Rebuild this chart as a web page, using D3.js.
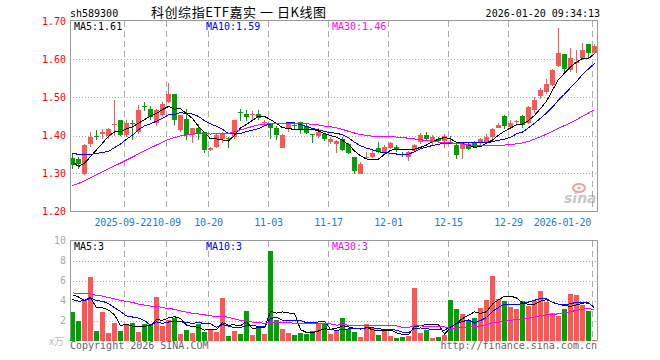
<!DOCTYPE html>
<html>
<head>
<meta charset="utf-8">
<script src="https://cdn.jsdelivr.net/npm/d3@7"></script>
<style>
body { margin: 0; background: #fff; }
text { font-family: "DejaVu Sans Mono", monospace; font-size: 10px; }
</style>
</head>
<body>
<div id="chart"></div>
<script>
// trading days shown on the chart
var dates = [
  "2025-09-09","2025-09-10","2025-09-11","2025-09-12","2025-09-15","2025-09-16","2025-09-17","2025-09-18","2025-09-19",
  "2025-09-22","2025-09-23","2025-09-24","2025-09-25","2025-09-26","2025-09-29","2025-09-30",
  "2025-10-09","2025-10-10","2025-10-13","2025-10-14","2025-10-15","2025-10-16","2025-10-17",
  "2025-10-20","2025-10-21","2025-10-22","2025-10-23","2025-10-24","2025-10-27","2025-10-28","2025-10-29","2025-10-30","2025-10-31",
  "2025-11-03","2025-11-04","2025-11-05","2025-11-06","2025-11-07","2025-11-10","2025-11-11","2025-11-12","2025-11-13","2025-11-14",
  "2025-11-17","2025-11-18","2025-11-19","2025-11-20","2025-11-21","2025-11-24","2025-11-25","2025-11-26","2025-11-27","2025-11-28",
  "2025-12-01","2025-12-02","2025-12-03","2025-12-04","2025-12-05","2025-12-08","2025-12-09","2025-12-10","2025-12-11","2025-12-12",
  "2025-12-15","2025-12-16","2025-12-17","2025-12-18","2025-12-19","2025-12-22","2025-12-23","2025-12-24","2025-12-25","2025-12-26",
  "2025-12-29","2025-12-30","2025-12-31",
  "2026-01-05","2026-01-06","2026-01-07","2026-01-08","2026-01-09","2026-01-12","2026-01-13","2026-01-14","2026-01-15","2026-01-16",
  "2026-01-19","2026-01-20"
];

var open = [1.342,1.339,1.300,1.377,1.400,1.405,1.399,1.427,1.440,1.401,1.432,1.410,1.478,1.471,1.432,1.455,1.489,1.509,
  1.414,1.443,1.401,1.421,1.409,1.361,1.371,1.390,1.393,1.395,1.463,1.456,1.455,1.456,1.434,1.429,1.421,1.368,
  1.419,1.427,1.436,1.426,1.403,1.398,1.403,1.382,1.378,1.391,1.377,1.344,1.300,1.342,1.343,1.368,1.354,1.368,
  1.370,1.351,1.344,1.359,1.383,1.401,1.384,1.392,1.386,1.384,1.376,1.365,1.376,1.382,1.379,1.384,1.396,1.421,
  1.451,1.423,1.437,1.451,1.433,1.466,1.504,1.515,1.532,1.583,1.614,1.572,1.591,1.603,1.640,1.616];
var high = [1.351,1.343,1.378,1.408,1.414,1.416,1.421,1.494,1.442,1.442,1.442,1.480,1.489,1.477,1.471,1.489,1.539,1.510,
  1.455,1.471,1.420,1.430,1.410,1.370,1.405,1.410,1.396,1.441,1.469,1.467,1.465,1.467,1.442,1.431,1.425,1.403,
  1.436,1.430,1.436,1.429,1.405,1.419,1.403,1.397,1.389,1.395,1.379,1.344,1.330,1.356,1.362,1.383,1.374,1.383,
  1.374,1.356,1.360,1.377,1.407,1.409,1.401,1.395,1.403,1.398,1.379,1.381,1.381,1.385,1.393,1.405,1.421,1.433,
  1.454,1.440,1.442,1.454,1.477,1.502,1.524,1.550,1.574,1.684,1.614,1.629,1.625,1.644,1.640,1.640];
var low = [1.313,1.313,1.296,1.370,1.388,1.390,1.390,1.400,1.398,1.396,1.388,1.405,1.464,1.442,1.425,1.449,1.485,1.427,
  1.408,1.388,1.379,1.388,1.354,1.359,1.368,1.379,1.368,1.392,1.437,1.437,1.442,1.442,1.427,1.392,1.388,1.368,
  1.410,1.418,1.403,1.403,1.381,1.394,1.386,1.378,1.354,1.360,1.351,1.300,1.298,1.337,1.340,1.355,1.352,1.364,
  1.357,1.343,1.334,1.357,1.377,1.388,1.374,1.380,1.366,1.378,1.337,1.339,1.362,1.367,1.372,1.381,1.389,1.419,
  1.416,1.416,1.425,1.421,1.429,1.460,1.497,1.509,1.530,1.581,1.565,1.568,1.565,1.598,1.605,1.614];
var close = [1.322,1.324,1.375,1.396,1.395,1.408,1.417,1.430,1.401,1.434,1.430,1.468,1.475,1.449,1.467,1.482,1.509,1.440,
  1.454,1.401,1.420,1.405,1.363,1.367,1.401,1.405,1.390,1.440,1.462,1.450,1.457,1.445,1.436,1.421,1.401,1.401,
  1.432,1.425,1.416,1.407,1.402,1.409,1.391,1.391,1.385,1.361,1.353,1.307,1.326,1.344,1.355,1.357,1.370,1.379,
  1.361,1.350,1.357,1.374,1.401,1.392,1.397,1.386,1.399,1.382,1.348,1.379,1.365,1.370,1.392,1.396,1.418,1.427,
  1.425,1.432,1.439,1.427,1.474,1.493,1.521,1.535,1.572,1.618,1.574,1.605,1.594,1.625,1.616,1.635];
// volume, in 10k
var volume = [2.9,2.0,4.1,6.4,1.0,2.9,0.8,1.8,1.0,1.7,1.8,0.9,1.7,1.6,4.4,1.5,2.1,2.3,
  0.7,1.1,0.8,1.7,0.9,1.1,0.9,4.3,0.5,1.0,0.7,3.0,0.6,1.3,0.7,9.0,2.1,1.2,
  0.75,0.6,0.8,0.65,1.0,1.7,1.65,0.65,1.05,2.3,1.15,0.9,0.4,1.7,1.25,0.6,1.2,0.5,
  0.3,0.4,0.5,5.3,0.8,1.1,0.3,0.4,0.6,4.1,3.2,2.7,2.0,2.3,3.3,4.1,6.5,4.2,
  4.0,3.4,3.2,4.0,3.5,4.0,5.0,3.9,2.8,2.5,3.2,4.7,4.6,3.6,3.0,0.1];

// sessions before the window, only used so the moving averages start where they should
var histClose = [1.15,1.16,1.16,1.17,1.17,1.18,1.18,1.19,1.19,1.20,1.21,1.22,1.23,1.25,1.27,1.28,1.30,1.31,1.33,1.35,
  1.36,1.38,1.39,1.37,1.38,1.39,1.33,1.31,1.305];
var histVolume = [4.5,5.0,6.2,5.5,4.8,5.2,6.0,5.5,4.6,5.0,5.8,4.9,4.4,5.3,5.1,4.7,4.8,5.4,4.9,4.3,
  3.8,3.5,3.9,3.4,3.6,3.1,5.9,4.8,6.15];

var tickDates = ["2025-09-22","2025-10-09","2025-10-20","2025-11-03","2025-11-17","2025-12-01","2025-12-15","2025-12-29","2026-01-20"];
var tickLabels = ["2025-09-22","10-09","10-20","11-03","11-17","12-01","12-15","12-29","2026-01-20"];
var priceTicks = [1.20,1.30,1.40,1.50,1.60,1.70];
var volumeTicks = [2,4,6,8,10];

var maPeriods = [5, 10, 30];
var maColors = ["#000000", "#0000ff", "#ff00ff"];
var priceMaLabels = ["MA5:1.61", "MA10:1.59", "MA30:1.46"];
var volumeMaLabels = ["MA5:3", "MA10:3", "MA30:3"];

var svgWidth = 660;
var svgHeight = 360;
var red = "#ff5555";
var green = "#00a000";

var svg = d3.select("#chart").append("svg")
  .attr("width", svgWidth)
  .attr("height", svgHeight)
  .style("display", "block");

var idx = d3.range(dates.length);

var x = d3.scaleBand()
  .domain(idx)
  .range([69.5, 597.5])
  .paddingInner(1 / 6)
  .paddingOuter(1 / 12);

var yPrice = d3.scaleLinear().domain([1.20, 1.70]).range([211.5, 21.5]);
var yVol = d3.scaleLinear().domain([0, 10]).range([340.5, 240.5]);

function movingAverage(series, hist, n) {
  var all = hist.concat(series);
  var off = hist.length;
  return series.map(function (d, i) {
    return d3.mean(all.slice(off + i - n + 1, off + i + 1));
  });
}

var tickIdx = tickDates.map(function (d) { return dates.indexOf(d); });

// grid
function drawGrid(y, ticks, top, bottom) {
  var g = svg.append("g");
  g.selectAll("line.h")
    .data(ticks)
    .enter()
    .append("line")
    .attr("x1", 70).attr("x2", 597)
    .attr("y1", d => Math.round(y(d)) + 0.5)
    .attr("y2", d => Math.round(y(d)) + 0.5)
    .attr("stroke", "#aaa")
    .attr("stroke-dasharray", "1,2");
  g.selectAll("line.v")
    .data(tickIdx)
    .enter()
    .append("line")
    .attr("x1", d => x(d) + 0.5).attr("x2", d => x(d) + 0.5)
    .attr("y1", top).attr("y2", bottom)
    .attr("stroke", "#aaa")
    .attr("stroke-dasharray", "6,4");
}
drawGrid(yPrice, [1.30, 1.40, 1.50, 1.60], 21, 211);
drawGrid(yVol, [2, 4, 6, 8], 241, 340);

// candles
var candles = svg.append("g").attr("shape-rendering", "crispEdges");
candles.selectAll("line")
  .data(idx)
  .enter()
  .append("line")
  .attr("x1", i => x(i) + 2.5)
  .attr("x2", i => x(i) + 2.5)
  .attr("y1", i => yPrice(high[i]))
  .attr("y2", i => yPrice(low[i]))
  .attr("stroke", i => close[i] >= open[i] ? red : green);
candles.selectAll("rect")
  .data(idx)
  .enter()
  .append("rect")
  .attr("x", i => x(i))
  .attr("width", x.bandwidth())
  .attr("y", i => yPrice(Math.max(open[i], close[i])))
  .attr("height", i => Math.max(1, Math.abs(yPrice(open[i]) - yPrice(close[i]))))
  .attr("fill", i => close[i] >= open[i] ? red : green);

// volume bars
svg.append("g").attr("shape-rendering", "crispEdges")
  .selectAll("rect")
  .data(idx)
  .enter()
  .append("rect")
  .attr("x", i => x(i))
  .attr("width", x.bandwidth())
  .attr("y", i => yVol(volume[i]))
  .attr("height", i => yVol(0) - yVol(volume[i]))
  .attr("fill", i => close[i] >= open[i] ? red : green);

// moving average lines
maPeriods.forEach(function (n, k) {
  var pm = movingAverage(close, histClose, n);
  var vm = movingAverage(volume, histVolume, n);
  var linePrice = d3.line().x((d, i) => x(i) + 2.5).y(d => yPrice(d));
  var lineVol = d3.line().x((d, i) => x(i) + 2.5).y(d => yVol(d));
  svg.append("path").attr("d", linePrice(pm))
    .attr("fill", "none").attr("stroke", maColors[k]).attr("stroke-width", 1)
    .attr("shape-rendering", "crispEdges");
  svg.append("path").attr("d", lineVol(vm))
    .attr("fill", "none").attr("stroke", maColors[k]).attr("stroke-width", 1)
    .attr("shape-rendering", "crispEdges");
});

// panel borders
svg.append("rect")
  .attr("x", 70.5).attr("y", 20.5).attr("width", 527).attr("height", 191)
  .attr("fill", "none").attr("stroke", "#999");
svg.append("path")
  .attr("d", "M70.5,340V240.5H597.5V340")
  .attr("fill", "none").attr("stroke", "#999");

// price axis labels
svg.append("g").selectAll("text")
  .data(priceTicks)
  .enter()
  .append("text")
  .attr("x", 66)
  .attr("y", d => yPrice(d) + 3.5)
  .attr("text-anchor", "end")
  .attr("fill", "#ff0000")
  .text(d => d.toFixed(2));

// volume axis labels
svg.append("g").selectAll("text")
  .data(volumeTicks)
  .enter()
  .append("text")
  .attr("x", 66)
  .attr("y", d => yVol(d) + 3.5)
  .attr("text-anchor", "end")
  .attr("fill", "#aaa")
  .text(d => d);

svg.append("text")
  .attr("x", 49).attr("y", 345)
  .attr("fill", "#bbb")
  .style("font-family", "'Noto Sans CJK SC', sans-serif")
  .style("font-size", "10px")
  .text("x万");

// date labels, kept inside the panel and clear of their neighbours
var labelW = tickLabels.map(s => s.length * 5.72);
var labelX = tickIdx.map((d, k) => Math.min(x(d) + 0.5, 591 - labelW[k] / 2));
for (var k = 0; k < labelX.length - 1; k++) {
  var gap = (labelX[k + 1] - labelW[k + 1] / 2) - (labelX[k] + labelW[k] / 2);
  if (gap < 0.5) labelX[k] -= 0.5 - gap;
}
svg.append("g").selectAll("text")
  .data(tickIdx)
  .enter()
  .append("text")
  .attr("x", (d, k) => labelX[k])
  .attr("y", 226)
  .attr("text-anchor", "middle")
  .attr("letter-spacing", "-0.3")
  .attr("fill", "#1480d0")
  .text((d, k) => tickLabels[k]);

// MA legends
var legendX = [74, 206, 332];
maPeriods.forEach(function (n, k) {
  svg.append("text").attr("x", legendX[k]).attr("y", 30)
    .attr("fill", maColors[k]).text(priceMaLabels[k]);
  svg.append("text").attr("x", legendX[k]).attr("y", 250)
    .attr("fill", maColors[k]).text(volumeMaLabels[k]);
});

// header
svg.append("text").attr("x", 70).attr("y", 17).attr("fill", "#000").text("sh589300");
svg.append("text").attr("x", 151).attr("y", 17).attr("fill", "#000")
  .style("font-family", "'Noto Sans CJK SC', sans-serif")
  .style("font-size", "13px")
  .attr("textLength", 175)
  .attr("lengthAdjust", "spacing")
  .text("科创综指ETF嘉实 一 日K线图");
svg.append("text").attr("x", 600).attr("y", 17).attr("text-anchor", "end")
  .attr("fill", "#000").text("2026-01-20 09:34:13");

// footer
svg.append("text").attr("x", 70).attr("y", 349).attr("fill", "#666").text("Copyright 2026 SINA.COM");
svg.append("text").attr("x", 597).attr("y", 349).attr("text-anchor", "end")
  .attr("fill", "#666").text("http://finance.sina.com.cn");

// sina watermark
var logo = svg.append("g").attr("opacity", 0.45);
logo.append("ellipse").attr("cx", 579).attr("cy", 188).attr("rx", 6).attr("ry", 4)
  .attr("fill", "none").attr("stroke", "#e03030").attr("stroke-width", 2);
logo.append("circle").attr("cx", 579).attr("cy", 188).attr("r", 1.6).attr("fill", "#e03030");
logo.append("text").attr("x", 564).attr("y", 203)
  .style("font-family", "'DejaVu Sans', sans-serif")
  .style("font-size", "14px")
  .style("font-style", "italic")
  .style("font-weight", "bold")
  .attr("fill", "#888")
  .text("sina");
</script>
</body>
</html>
